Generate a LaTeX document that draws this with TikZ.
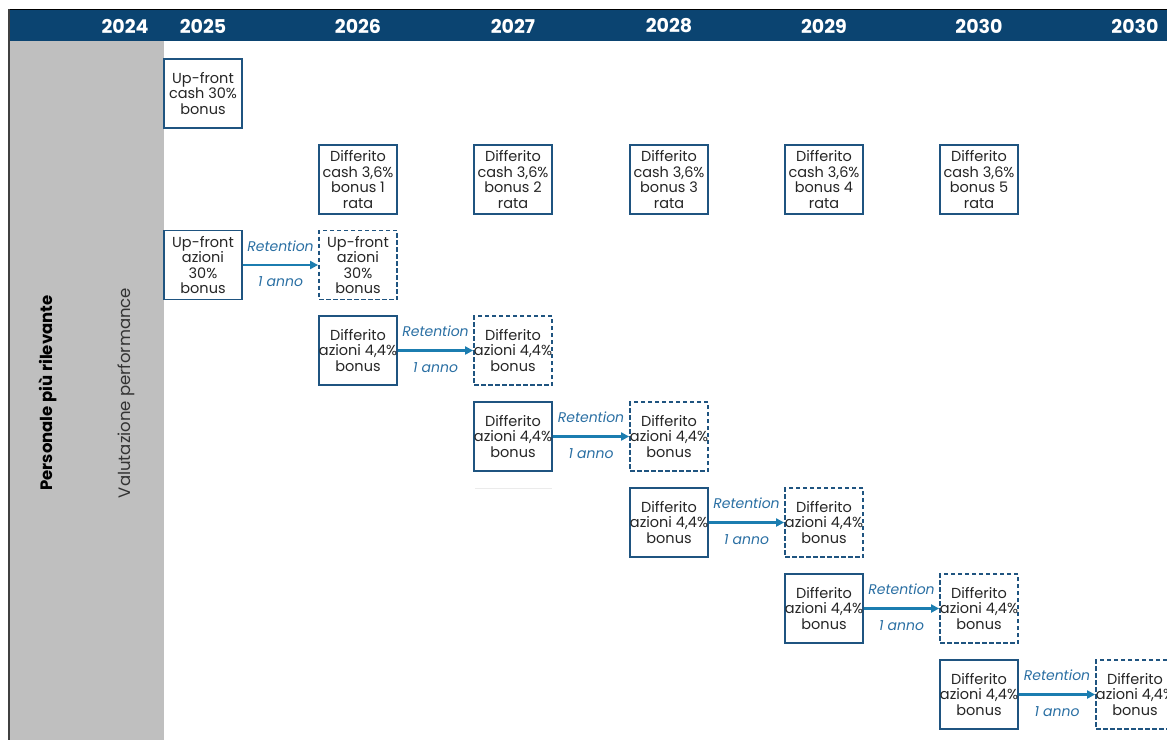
\documentclass[tikz,border=0pt]{standalone}
\usepackage{fontspec}
\setmainfont{Poppins}
\usetikzlibrary{arrows.meta}
\definecolor{navy}{HTML}{0B4471}
\definecolor{boxc}{HTML}{1F5480}
\definecolor{arrc}{HTML}{1B7DB0}
\definecolor{txtc}{HTML}{2A6FA3}
\definecolor{panel}{HTML}{BFBFBF}
\tikzset{
  box/.style={draw=boxc, line width=1.8pt, minimum width=78pt, minimum height=69pt, inner sep=0pt, fill=white},
  dbox/.style={box, dash pattern=on 4.5pt off 2.5pt},
  txt/.style={align=center, inner sep=0pt, font=\fontsize{14.5}{15.5}\selectfont, text=black!85},
  yr/.style={text=white, font=\fontsize{19}{22}\selectfont\bfseries},
  arr/.style={draw=arrc, line width=2.2pt, -{Triangle[length=8pt,width=8pt]}},
  rlab/.style={text=txtc, font=\fontsize{14}{16}\selectfont\itshape, inner sep=0pt},
}
\newcommand{\bx}[5]{\node[#1] (#2) at (#3,#4) {}; \node[txt] at (#2) {#5};}
\begin{document}
\begin{tikzpicture}[x=1pt,y=-1pt]
\useasboundingbox (0,0) rectangle (1167,740);
\clip (0,0) rectangle (1167,740);
% header
\fill[navy] (8,10) rectangle (1167,41);
\draw[black, line width=1pt] (8,9.5) -- (1167,9.5);
\fill[panel] (9,41) rectangle (164,740);
\draw[black!75, line width=2pt] (9,9) -- (9,740);
\foreach \yy/\xx in {2024/125,2025/203,2026/358,2027/513,2028/669,2029/824,2030/979}
  \node[yr] (y\xx) at (\xx,26) {\yy};
\node[yr] (ylast) at (1135,26) {2030};
% left labels
\node[rotate=90, font=\fontsize{16.5}{18}\selectfont\bfseries] (pers) at (48,393) {Personale più rilevante};
\node[rotate=90, font=\fontsize{16.5}{18}\selectfont, text=black!80] (val) at (126,393) {Valutazione performance};
% faint line
\draw[black!8, line width=1pt] (475,488.5) -- (552,488.5);
% row 1
\bx{box}{r1}{203}{93.5}{Up-front\\cash 30\%\\bonus}
% row 2
\bx{box}{c1}{358}{179.5}{Differito\\cash 3,6\%\\bonus 1\\rata}
\bx{box}{c2}{513}{179.5}{Differito\\cash 3,6\%\\bonus 2\\rata}
\bx{box}{c3}{669}{179.5}{Differito\\cash 3,6\%\\bonus 3\\rata}
\bx{box}{c4}{824}{179.5}{Differito\\cash 3,6\%\\bonus 4\\rata}
\bx{box}{c5}{979}{179.5}{Differito\\cash 3,6\%\\bonus 5\\rata}
% row 3
\bx{box}{a1}{203}{265}{Up-front\\azioni\\30\%\\bonus}
\bx{dbox}{b1}{358}{265}{Up-front\\azioni\\30\%\\bonus}
% rows 4-8
\bx{box}{a2}{358}{350.5}{Differito\\azioni 4,4\%\\bonus}
\bx{dbox}{b2}{513}{350.5}{Differito\\azioni 4,4\%\\bonus}
\bx{box}{a3}{513}{436.5}{Differito\\azioni 4,4\%\\bonus}
\bx{dbox}{b3}{669}{436.5}{Differito\\azioni 4,4\%\\bonus}
\bx{box}{a4}{669}{522.5}{Differito\\azioni 4,4\%\\bonus}
\bx{dbox}{b4}{824}{522.5}{Differito\\azioni 4,4\%\\bonus}
\bx{box}{a5}{824}{608.5}{Differito\\azioni 4,4\%\\bonus}
\bx{dbox}{b5}{979}{608.5}{Differito\\azioni 4,4\%\\bonus}
\bx{box}{a6}{979}{694.5}{Differito\\azioni 4,4\%\\bonus}
\bx{dbox}{b6}{1135}{694.5}{Differito\\azioni 4,4\%\\bonus}
% arrows
\foreach \i in {1,...,6}{
  \draw[arr] (a\i.east) -- (b\i.west)
    node[midway, rlab, yshift=19pt] {Retention}
    node[midway, rlab, yshift=-17pt] {1 anno};
}
\end{tikzpicture}
\end{document}
